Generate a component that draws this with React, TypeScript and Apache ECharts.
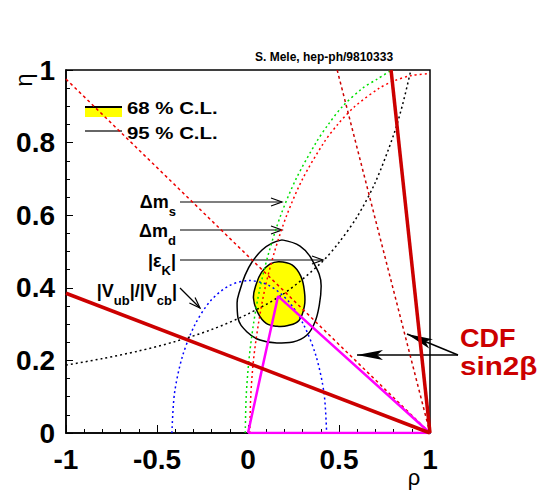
import React, { useEffect, useRef } from "react";
import * as echarts from "echarts";

type P = [number, number];

// Tick labels
const xTickLabels = ["-1", "-0.5", "0", "0.5", "1"];
const yTickLabels = ["0", "0.2", "0.4", "0.6", "0.8", "1"];

// 68% C.L. region (yellow)
const cl68Contour: P[] = [
  [0.17, 0.472], [0.242, 0.463], [0.29, 0.432], [0.31, 0.39], [0.31, 0.35],
  [0.28, 0.31], [0.22, 0.296], [0.16, 0.294], [0.1, 0.302], [0.055, 0.33],
  [0.03, 0.372], [0.045, 0.41], [0.075, 0.443], [0.12, 0.465],
];

// 95% C.L. contour
const cl95Contour: P[] = [
  [0.187, 0.532], [0.286, 0.515], [0.352, 0.477], [0.402, 0.405], [0.392, 0.353],
  [0.368, 0.306], [0.324, 0.27], [0.247, 0.251], [0.159, 0.248], [0.066, 0.256],
  [-0.005, 0.278], [-0.055, 0.317], [-0.06, 0.358], [-0.044, 0.394], [-0.016, 0.435],
  [0.022, 0.471], [0.077, 0.504], [0.132, 0.523], [0.187, 0.532],
];

// Delta m_s bound (green dotted)
const dmsBound: P[] = [
  [-0.015, 0], [-0.01, 0.1], [0.005, 0.2], [0.03, 0.3], [0.066, 0.4], [0.116, 0.5],
  [0.18, 0.6], [0.264, 0.7], [0.374, 0.8], [0.441, 0.85], [0.52, 0.9], [0.63, 0.95],
  [0.71, 0.975], [0.79, 1.0],
];

// Delta m_d bound (red dotted circle)
const dmdBound: P[] = [
  [0.01, 0], [0.015, 0.1], [0.03, 0.2], [0.057, 0.3], [0.094, 0.4], [0.146, 0.5],
  [0.213, 0.6], [0.3, 0.7], [0.417, 0.8], [0.493, 0.85], [0.588, 0.9], [0.722, 0.95],
  [0.802, 0.97], [0.9, 0.985], [1.0, 0.99],
];

// Delta m_d second bound (red dashed)
const dmdLine: P[] = [[-1, 0.975], [1, 0]];

// |Vub|/|Vcb| bound (blue dotted)
const vubBound: P[] = [
  [-0.418, 0], [-0.404, 0.109], [-0.361, 0.21], [-0.293, 0.297], [-0.206, 0.364],
  [-0.103, 0.406], [0.007, 0.42], [0.117, 0.406], [0.22, 0.364], [0.307, 0.297],
  [0.375, 0.21], [0.418, 0.109], [0.432, 0],
];

// |eps_K| bound (black dotted)
const epsKBound: P[] = [
  [-1, 0.187], [-0.8, 0.205], [-0.6, 0.226], [-0.4, 0.252], [-0.2, 0.285], [0, 0.328],
  [0.2, 0.385], [0.4, 0.468], [0.5, 0.525], [0.6, 0.596], [0.7, 0.691], [0.8, 0.821],
  [0.85, 0.906], [0.895, 1.0],
];

// CDF sin2beta
const sin2bCentral: P[] = [[0.49, 1], [1, 0]];
const sin2bLow: P[] = [[-1, 0.385], [1, 0]];
const sin2bHigh: P[] = [[0.786, 1], [1, 0]];

// Unitarity triangle
const triangle: P[] = [[0, 0], [0.165, 0.377], [1, 0], [0, 0]];

const FONT = "'Liberation Sans', Arial, Helvetica, sans-serif";

export default function App() {
  const ref = useRef<HTMLDivElement>(null);

  useEffect(() => {
    if (!ref.current) return;
    const chart = echarts.init(ref.current, undefined, { renderer: "svg" });

    const lineSeries = (
      name: string,
      data: P[],
      color: string,
      width: number,
      dash: any,
      z: number,
      smooth: number | boolean = 0.3
    ) => ({
      type: "line",
      name,
      data,
      symbol: "none",
      showSymbol: false,
      smooth,
      silent: true,
      lineStyle: { color, width, type: dash },
      z,
    });

    const arrowOpen = (x1: number, y1: number, x2: number, y2: number) => {
      const dx = x2 - x1;
      const dy = y2 - y1;
      const L = Math.sqrt(dx * dx + dy * dy);
      const ux = dx / L;
      const uy = dy / L;
      const bl = 11;
      const hw = 4;
      return [
        { type: "line", shape: { x1, y1, x2, y2 }, style: { stroke: "#000", lineWidth: 1.2 } },
        {
          type: "polyline",
          shape: {
            points: [
              [x2 - ux * bl - uy * hw, y2 - uy * bl + ux * hw],
              [x2, y2],
              [x2 - ux * bl + uy * hw, y2 - uy * bl - ux * hw],
            ],
          },
          style: { stroke: "#000", lineWidth: 1.2, fill: null },
        },
      ];
    };

    const arrowFilled = (x1: number, y1: number, x2: number, y2: number) => {
      const dx = x2 - x1;
      const dy = y2 - y1;
      const L = Math.sqrt(dx * dx + dy * dy);
      const ux = dx / L;
      const uy = dy / L;
      const bl = 26;
      const nl = 20;
      const hw = 5;
      return [
        { type: "line", shape: { x1, y1, x2, y2 }, style: { stroke: "#000", lineWidth: 1.5 } },
        {
          type: "polygon",
          shape: {
            points: [
              [x2, y2],
              [x2 - ux * bl - uy * hw, y2 - uy * bl + ux * hw],
              [x2 - ux * nl, y2 - uy * nl],
              [x2 - ux * bl + uy * hw, y2 - uy * bl - ux * hw],
            ],
          },
          style: { fill: "#000" },
        },
      ];
    };

    const richLabel = (x: number, y: number, text: string) => ({
      type: "text",
      x,
      y,
      style: {
        text,
        align: "right",
        verticalAlign: "middle",
        fill: "#000",
        rich: {
          m: {
            fontSize: 18,
            fontWeight: "bold",
            fontFamily: FONT,
            lineHeight: 20,
            verticalAlign: "middle",
            fill: "#000",
          },
          s: {
            fontSize: 13,
            fontWeight: "bold",
            fontFamily: FONT,
            lineHeight: 14,
            padding: [19, 0, 0, 0],
            verticalAlign: "middle",
            fill: "#000",
          },
        },
      },
    });

    const option: any = {
      animation: false,
      backgroundColor: "#fff",
      grid: {
        left: 66,
        right: 124,
        top: 70,
        bottom: 58,
        show: true,
        borderColor: "#000",
        borderWidth: 1.5,
        backgroundColor: "transparent",
      },
      xAxis: {
        type: "value",
        min: -1,
        max: 1,
        interval: 0.5,
        axisLine: { show: true, onZero: false, lineStyle: { color: "#000", width: 1.5 } },
        axisTick: { show: true, inside: true, length: 8, lineStyle: { color: "#000", width: 1 } },
        minorTick: { show: true, splitNumber: 5, length: 4, lineStyle: { color: "#000", width: 1 } },
        splitLine: { show: false },
        minorSplitLine: { show: false },
        axisLabel: {
          interval: 0,
          margin: 16,
          lineHeight: 20,
          fontSize: 28,
          fontWeight: "bold",
          fontFamily: FONT,
          color: "#000",
          formatter: (_v: number, i: number) => xTickLabels[i],
        },
      },
      yAxis: {
        type: "value",
        min: 0,
        max: 1,
        interval: 0.2,
        axisLine: { show: true, onZero: false, lineStyle: { color: "#000", width: 1.5 } },
        axisTick: { show: true, inside: true, length: 7, lineStyle: { color: "#000", width: 1 } },
        minorTick: { show: true, splitNumber: 4, length: 4, lineStyle: { color: "#000", width: 1 } },
        splitLine: { show: false },
        minorSplitLine: { show: false },
        axisLabel: {
          interval: 0,
          margin: 11,
          fontSize: 28,
          fontWeight: "bold",
          fontFamily: FONT,
          color: "#000",
          padding: [6, 0, 0, 0],
          formatter: (_v: number, i: number) => yTickLabels[i],
        },
      },
      series: [
        {
          type: "custom",
          name: "68 % C.L.",
          data: [cl68Contour[0]],
          silent: true,
          z: 1,
          renderItem: (_params: any, api: any) => ({
            type: "polygon",
            shape: { points: cl68Contour.map((p) => api.coord(p)), smooth: 0.4 },
            style: { fill: "#ffff00", stroke: "#000", lineWidth: 1.5 },
          }),
        },
        lineSeries("95 % C.L.", cl95Contour, "#000", 1.5, "solid", 2, 0.4),
        lineSeries("Δm_s", dmsBound, "#00e000", 1.5, [2, 3], 3),
        lineSeries("Δm_d", dmdBound, "#ff0000", 1.5, [2, 3], 3),
        lineSeries("Δm_d line", dmdLine, "#ee0000", 1.5, [3, 3], 3, false),
        lineSeries("|Vub|/|Vcb|", vubBound, "#0000ff", 1.5, [2, 3], 3),
        lineSeries("|εK|", epsKBound, "#000", 1.5, [2, 3], 3),
        lineSeries("sin2β central", sin2bCentral, "#cc0000", 1.5, [3, 3], 3, false),
        lineSeries("triangle", triangle, "#ff00ff", 2.5, "solid", 4, false),
        lineSeries("sin2β low", sin2bLow, "#cc0000", 3.5, "solid", 5, false),
        lineSeries("sin2β high", sin2bHigh, "#cc0000", 3.5, "solid", 5, false),
      ],
      graphic: [
        {
          type: "text",
          x: 255,
          y: 57,
          style: {
            text: "S. Mele, hep-ph/9810333",
            fontSize: 12,
            fontWeight: "bold",
            fontFamily: FONT,
            fill: "#000",
            align: "left",
            verticalAlign: "middle",
          },
        },
        // legend
        { type: "rect", shape: { x: 85, y: 107, width: 37, height: 10 }, style: { fill: "#ffff00" } },
        { type: "line", shape: { x1: 85, y1: 107, x2: 122, y2: 107 }, style: { stroke: "#000", lineWidth: 2 } },
        { type: "line", shape: { x1: 85, y1: 131, x2: 122, y2: 131 }, style: { stroke: "#333", lineWidth: 1.5 } },
        {
          type: "text",
          x: 127,
          y: 108,
          scaleX: 1.2,
          style: {
            text: "68 % C.L.",
            fontSize: 17,
            fontWeight: "bold",
            fontFamily: FONT,
            fill: "#000",
            align: "left",
            verticalAlign: "middle",
          },
        },
        {
          type: "text",
          x: 127,
          y: 133,
          scaleX: 1.2,
          style: {
            text: "95 % C.L.",
            fontSize: 17,
            fontWeight: "bold",
            fontFamily: FONT,
            fill: "#000",
            align: "left",
            verticalAlign: "middle",
          },
        },
        // axis titles
        {
          type: "text",
          x: 23,
          y: 80,
          rotation: Math.PI / 2,
          style: {
            text: "η",
            fontSize: 24,
            fontFamily: FONT,
            fill: "#000",
            align: "center",
            verticalAlign: "middle",
          },
        },
        {
          type: "text",
          x: 414,
          y: 477,
          style: {
            text: "ρ",
            fontSize: 22,
            lineHeight: 14,
            fontFamily: FONT,
            fill: "#000",
            align: "center",
            verticalAlign: "middle",
          },
        },
        // constraint labels
        richLabel(176, 201.5, "{m|Δm}{s|s}"),
        richLabel(176, 231, "{m|Δm}{s|d}"),
        richLabel(176, 261, "{m||ε}{s|K}{m||}"),
        richLabel(177, 290.5, "{m||V}{s|ub}{m||/|V}{s|cb}{m||}"),
        ...arrowOpen(180, 202, 282, 202),
        ...arrowOpen(180, 230, 282, 230),
        ...arrowOpen(180, 260, 323, 260),
        ...arrowOpen(180, 288, 200, 308),
        // CDF
        {
          type: "text",
          x: 460,
          y: 338,
          scaleX: 1.04,
          style: {
            text: "CDF",
            fontSize: 26,
            fontWeight: "bold",
            fontFamily: FONT,
            fill: "#cc0000",
            align: "left",
            verticalAlign: "middle",
          },
        },
        {
          type: "text",
          x: 460,
          y: 366,
          scaleX: 1.14,
          style: {
            text: "sin2β",
            fontSize: 26,
            fontWeight: "bold",
            fontFamily: FONT,
            fill: "#cc0000",
            align: "left",
            verticalAlign: "middle",
          },
        },
        ...arrowFilled(458, 355, 357, 355),
        ...arrowFilled(458, 355, 407, 334),
      ],
    };

    chart.setOption(option);
    return () => chart.dispose();
  }, []);

  return (
    <div
      ref={ref}
      style={{ position: "fixed", left: 0, top: 0, width: 554, height: 491, background: "#fff" }}
    />
  );
}
